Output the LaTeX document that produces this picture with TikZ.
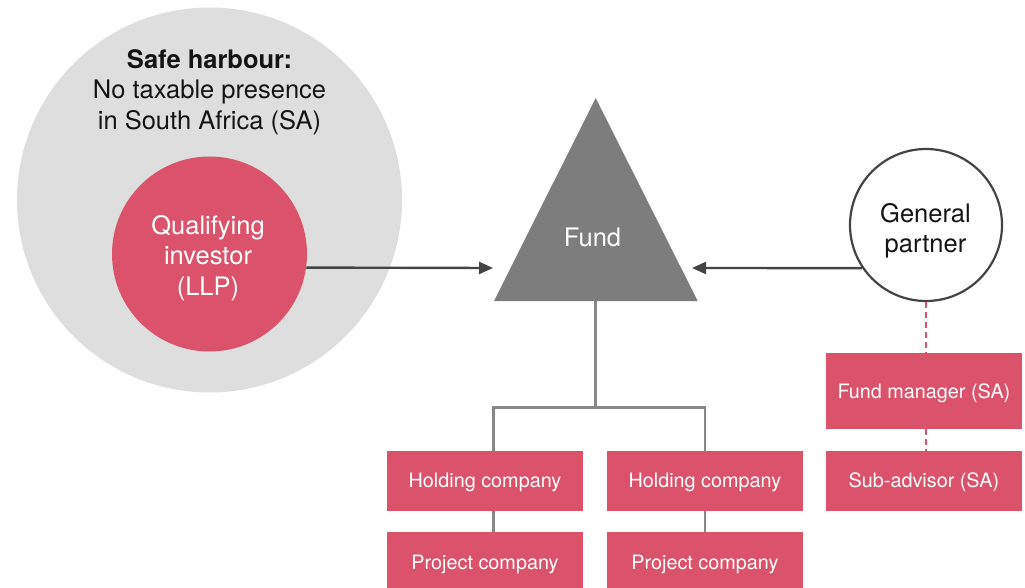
\documentclass[tikz,border=0pt]{standalone}
\usepackage{fontspec}
\setmainfont{TeX Gyre Heros}
\usetikzlibrary{arrows.meta}

\definecolor{rose}{RGB}{218,83,107}
\definecolor{harbourgrey}{RGB}{222,222,222}
\definecolor{fundgrey}{RGB}{125,125,125}
\definecolor{linkgrey}{RGB}{136,136,136}
\definecolor{arrowgrey}{RGB}{68,68,68}
\definecolor{inkblack}{RGB}{20,20,20}

\begin{document}
\begin{tikzpicture}[x=1pt,y=-1pt,
  bigtext/.style={font=\fontsize{25.5}{30.5}\selectfont, align=center, inner sep=0pt},
  disc/.style={circle, inner sep=0pt},
  entity/.style={rectangle, fill=rose, text=white, minimum width=195.7pt,
    inner sep=0pt, font=\fontsize{19.8}{23}\selectfont, text height=14pt, text depth=0pt},
  feed/.style={draw=arrowgrey, line width=2.4pt, -{Triangle[length=14pt,width=12pt]}},
  tree/.style={draw=linkgrey, line width=2.5pt},
  advise/.style={draw=rose, line width=2.2pt, dash pattern=on 6pt off 4pt}
]
\useasboundingbox (0,0) rectangle (1025,588);

% safe harbour zone with the investor inside
\node[disc, fill=harbourgrey, minimum size=385pt] (harbour) at (209.5,200) {};
\node[bigtext, text=inkblack] (harbourtext) at (209.5,92)
  {\textbf{Safe harbour:}\\No taxable presence\\in South Africa (SA)};
\node[disc, fill=rose, minimum size=195pt] (investor) at (209.5,254) {};
\node[bigtext, text=white] (investortext) at (208,258) {Qualifying\\investor\\(LLP)};

% the fund
\coordinate (fundapex) at (595.7,98);
\coordinate (fundleft) at (494,301);
\coordinate (fundright) at (697.7,301);
\coordinate (fundbase) at (595.7,301);
\fill[fundgrey] (fundapex) -- (fundright) -- (fundleft) -- cycle;
\node[anchor=base, font=\fontsize{25.5}{30}\selectfont, text=white, inner sep=0pt]
  (fund) at (592.5,246.7) {Fund};
\coordinate (fundinwest) at (493,268);
\coordinate (fundineast) at (692,268);

% general partner
\node[disc, draw=arrowgrey, line width=2.2pt, fill=white, minimum size=152pt] (gp) at (926,225) {};
\node[bigtext, text=inkblack] (gptext) at (925.5,231) {General\\partner};

% companies
\node[entity, minimum height=59.7pt] (hold1) at (485,480.85) {Holding company};
\node[entity, minimum height=59.7pt] (hold2) at (704.9,480.85) {Holding company};
\node[entity, minimum height=60pt] (proj1) at (485,562) {Project company};
\node[entity, minimum height=60pt] (proj2) at (704.9,562) {Project company};
\node[entity, minimum height=76pt] (fm) at (923.9,391) {Fund manager (SA)};
\node[entity, minimum height=59.7pt] (sa) at (923.9,480.85) {Sub-advisor (SA)};

% investment flows
\draw[feed] (investor.-8.3) -- (fundinwest);
\draw[feed] (gp.214) -- (fundineast);

% ownership tree
\coordinate (split) at (595.7,407.7);
\draw[tree] (fundbase) -- (split);
\draw[tree] ([xshift=8.3pt]hold1.north) |- (split) -| (hold2.north);
\draw[tree] ([xshift=8.3pt]hold1.south) -- ([xshift=8.3pt]proj1.north);
\draw[tree] (hold2.south) -- (proj2.north);

% management links
\draw[advise] (gp.south) -- (gp.south |- fm.north);
\draw[advise] (gp.south |- fm.south) -- (gp.south |- sa.north);
\end{tikzpicture}
\end{document}
